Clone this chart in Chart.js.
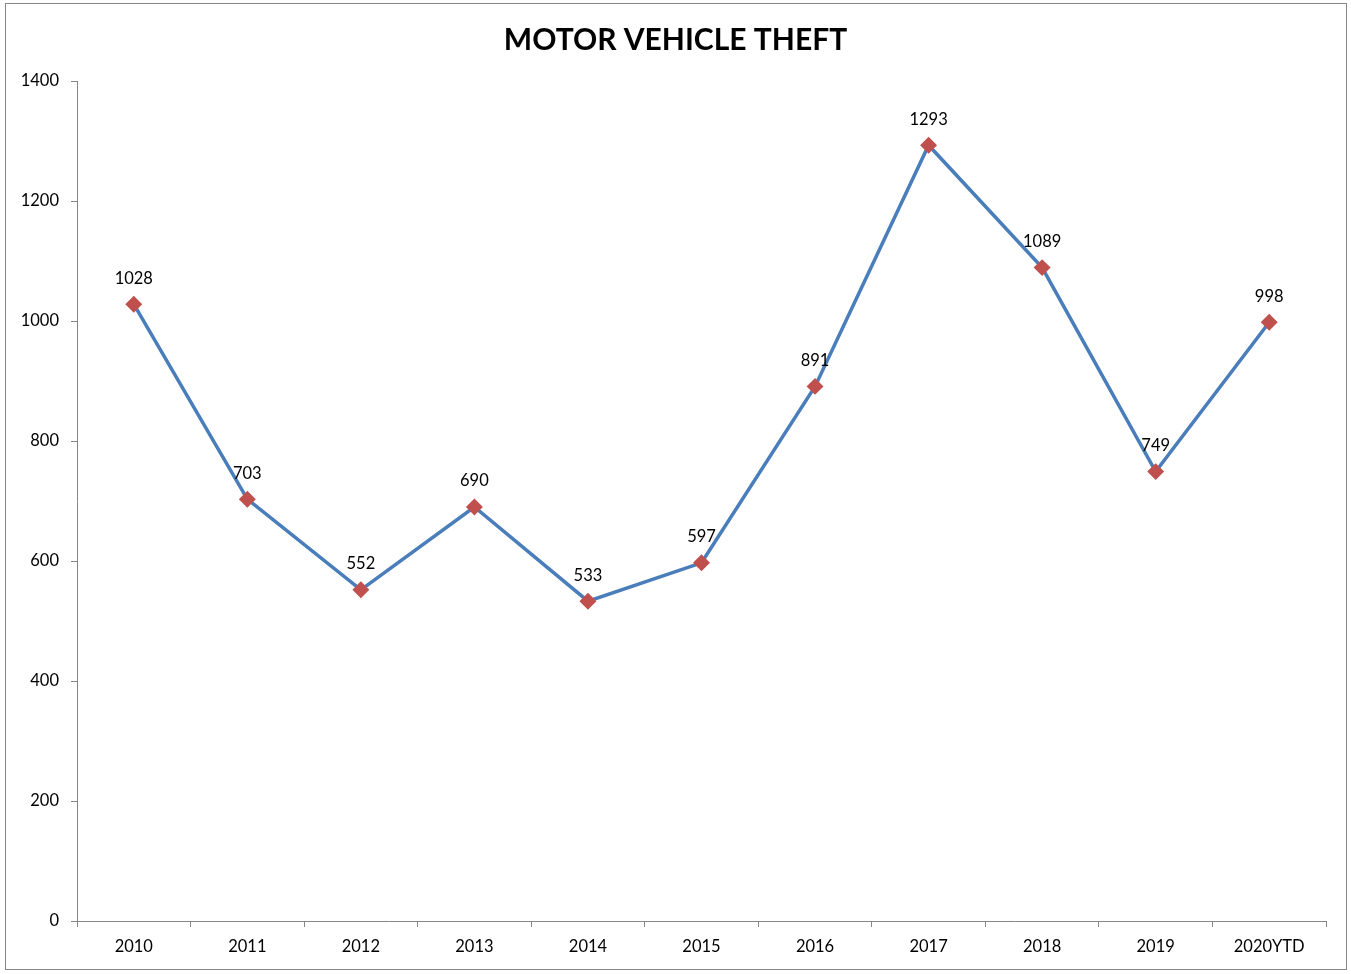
<!DOCTYPE html>
<html>
<head>
<meta charset="utf-8">
<script src="https://cdn.jsdelivr.net/npm/chart.js@4/dist/chart.umd.min.js"></script>
<style>
  body { margin: 0; background: #fff; }
  #wrap { width: 1351px; height: 974px; }
</style>
</head>
<body>
<div id="wrap"><canvas id="myChart" width="1351" height="974"></canvas></div>
<script>
const years = ['2010', '2011', '2012', '2013', '2014', '2015', '2016', '2017', '2018', '2019', '2020YTD'];
const thefts = [1028, 703, 552, 690, 533, 597, 891, 1293, 1089, 749, 998];
const chartTitle = 'MOTOR VEHICLE THEFT';

const FONT = 'Lato, "Open Sans", sans-serif';

// frame around the whole chart + title centred on the page
const framePlugin = {
  id: 'frame',
  beforeDraw(chart) {
    const c = chart.ctx;
    c.save();
    c.fillStyle = '#fff';
    c.fillRect(0, 0, chart.width, chart.height);
    c.strokeStyle = '#868686';
    c.lineWidth = 1;
    c.strokeRect(5.5, 3.5, 1341, 966);
    c.fillStyle = '#000';
    c.font = 'bold 30px ' + FONT;
    c.textAlign = 'center';
    c.textBaseline = 'middle';
    c.fillText(chartTitle, chart.width / 2, 40);
    c.restore();
  }
};

// value labels above each point
const labelPlugin = {
  id: 'valueLabels',
  afterDatasetsDraw(chart) {
    const c = chart.ctx;
    const meta = chart.getDatasetMeta(0);
    c.save();
    c.font = '16.5px ' + FONT;
    c.fillStyle = '#000';
    c.textAlign = 'center';
    c.textBaseline = 'middle';
    meta.data.forEach((pt, i) => {
      c.fillText(String(thefts[i]), pt.x, pt.y - 26);
    });
    c.restore();
  }
};

const ctx = document.getElementById('myChart');
new Chart(ctx, {
  type: 'line',
  data: {
    labels: years,
    datasets: [{
      label: 'Motor Vehicle Theft',
      data: thefts,
      borderColor: '#4a7ebb',
      borderWidth: 3.5,
      pointStyle: 'rectRot',
      pointRadius: 6,
      pointBackgroundColor: '#c0504d',
      pointBorderColor: '#c0504d',
      tension: 0
    }]
  },
  options: {
    responsive: false,
    animation: false,
    layout: { padding: { top: 81, left: 10, right: 25, bottom: 10 } },
    plugins: {
      legend: { display: false },
      tooltip: { enabled: false },
      title: { display: false }
    },
    scales: {
      x: {
        offset: true,
        grid: { offset: true, drawOnChartArea: false, color: '#868686', tickLength: 6 },
        border: { color: '#868686', width: 1 },
        ticks: { color: '#000', font: { family: FONT, size: 16.5 }, padding: 10, maxRotation: 0 },
        afterFit(scale) { scale.height = 43; }
      },
      y: {
        min: 0,
        max: 1400,
        ticks: {
          stepSize: 200, color: '#000', font: { family: FONT, size: 16.5 }, padding: 12,
          callback: (v) => String(v)
        },
        grid: { drawOnChartArea: false, color: '#868686', tickLength: 6 },
        border: { color: '#868686', width: 1 },
        afterFit(scale) { scale.width = 67; }
      }
    }
  },
  plugins: [framePlugin, labelPlugin]
});
</script>
</body>
</html>
